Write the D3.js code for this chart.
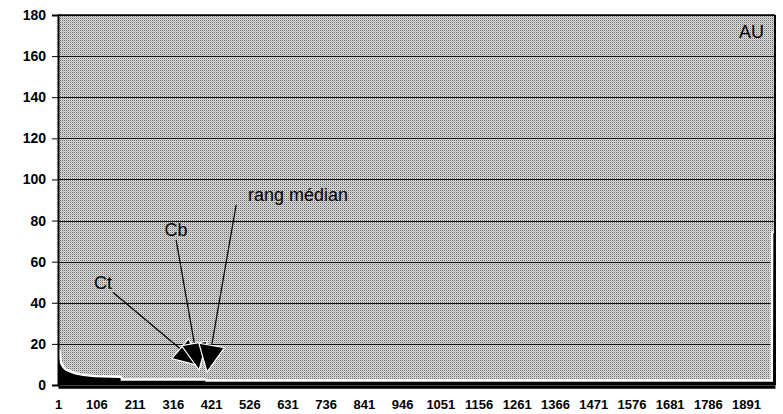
<!DOCTYPE html>
<html>
<head>
<meta charset="utf-8">
<script src="https://cdn.jsdelivr.net/npm/d3@7"></script>
<style>
  body { margin: 0; background: #fff; }
  text { font-family: "Liberation Sans", Arial, sans-serif; fill: #000; }
</style>
</head>
<body>
<svg id="chart" width="783" height="414"></svg>
<script>
// Number of ranked units on the horizontal axis
const rankCount = 1970;

// Rank-size curve: vertices of the filled profile (rank -> value)
const curveRanks  = [1, 3, 6, 12, 20, 34, 50, 70, 100, 172, 173, 405, 406, 1965, 1966, 1970];
const curveValues = [17, 13, 10.5, 8.5, 7, 6, 5, 4.4, 3.8, 3.4, 2.1, 2.1, 1.6, 1.6, 74, 74];

// Axis ticks
const yTicks = [0, 20, 40, 60, 80, 100, 120, 140, 160, 180];
const xTickRanks = [1, 106, 211, 316, 421, 526, 631, 736, 841, 946, 1051, 1156, 1261, 1366, 1471, 1576, 1681, 1786, 1891];

// Annotation labels (text anchor, line start, arrow tip) in rank/value units
const noteLabels  = ["Ct", "Cb", "rang médian"];
const noteTextPos = [[124, 49.6], [325, 75.4], [660, 92.5]];
const noteFrom    = [[152, 45], [325, 70.6], [490, 87.6]];
const noteTo      = [[393, 9.2], [388, 7.3], [410, 6.3]];

const svg = d3.select("#chart");
const margin = { left: 58, right: 8, top: 15, bottom: 29 };
const W = 783, H = 414;

const x = d3.scaleLinear().domain([0.5, rankCount + 0.5]).range([margin.left, W - margin.right]);
const y = d3.scaleLinear().domain([0, 180]).range([H - margin.bottom, margin.top]);

// Dithered grey fill of the plot area
const defs = svg.append("defs");
const pat = defs.append("pattern").attr("id", "dither")
  .attr("patternUnits", "userSpaceOnUse").attr("width", 2).attr("height", 2);
pat.append("rect").attr("width", 2).attr("height", 2).attr("fill", "#dcdcdc");
pat.append("rect").attr("x", 0).attr("y", 0).attr("width", 1).attr("height", 1).attr("fill", "#6c6c6c");
pat.append("rect").attr("x", 1).attr("y", 1).attr("width", 1).attr("height", 1).attr("fill", "#b6b6b6");

svg.append("rect")
  .attr("x", x.range()[0]).attr("y", y(180))
  .attr("width", x.range()[1] - x.range()[0]).attr("height", y(0) - y(180))
  .attr("fill", "url(#dither)");

// Horizontal gridlines
svg.append("g").selectAll("line").data(yTicks.filter(d => d > 0)).join("line")
  .attr("x1", x.range()[0]).attr("x2", x.range()[1])
  .attr("y1", d => Math.round(y(d)) + 0.5).attr("y2", d => Math.round(y(d)) + 0.5)
  .attr("stroke", "#111").attr("stroke-width", 1);

// Profile
const pts = curveRanks.map((r, i) => [r, curveValues[i]]);
const profileLine = d3.line().x(d => x(d[0])).y(d => y(d[1]));
const profileArea = d3.area().x(d => x(d[0])).y0(y(0)).y1(d => y(d[1]));

svg.append("path").datum(pts).attr("d", profileLine)
  .attr("fill", "none").attr("stroke", "#fff").attr("stroke-width", 5).attr("stroke-linejoin", "round");
svg.append("path").datum([[0.5, curveValues[0]], ...pts, [rankCount + 0.5, curveValues[curveValues.length - 1]]])
  .attr("d", profileArea).attr("fill", "#000");

// Frame: top and right borders
svg.append("line").attr("x1", x.range()[0]).attr("x2", x.range()[1])
  .attr("y1", y(180)).attr("y2", y(180)).attr("stroke", "#000").attr("stroke-width", 1.5);
svg.append("line").attr("x1", x.range()[1]).attr("x2", x.range()[1])
  .attr("y1", y(180)).attr("y2", y(0)).attr("stroke", "#000").attr("stroke-width", 2);

// Y axis
const yAxis = svg.append("g").attr("transform", `translate(${x.range()[0]},0)`)
  .call(d3.axisLeft(y).tickValues(yTicks).tickSize(6).tickPadding(6));
yAxis.select(".domain").attr("stroke-width", 2);
yAxis.selectAll("text").style("font-size", "14px").style("font-weight", "bold")
  .style("font-family", "'Liberation Sans', Arial, sans-serif");

// X axis (category ranks)
const xAxis = svg.append("g").attr("transform", `translate(0,${y(0) + 1.5})`)
  .call(d3.axisBottom(x).tickValues(xTickRanks).tickFormat(d3.format("d")).tickSize(0).tickPadding(13));
xAxis.select(".domain").attr("stroke-width", 3.5);
xAxis.selectAll("text").style("font-size", "13px").style("font-weight", "bold")
  .style("font-family", "'Liberation Sans', Arial, sans-serif");

// Corner label
svg.append("text").attr("x", x.range()[1] - 36).attr("y", y(180) + 17)
  .attr("dominant-baseline", "central").style("font-size", "18px").text("AU");

// Annotations with arrows
const headLen = 27, headHalf = 13;
noteLabels.forEach((lbl, i) => {
  const [fx, fy] = [x(noteFrom[i][0]), y(noteFrom[i][1])];
  const [tx, ty] = [x(noteTo[i][0]), y(noteTo[i][1])];
  const dx = tx - fx, dy = ty - fy, len = Math.hypot(dx, dy);
  const ux = dx / len, uy = dy / len;
  const bx = tx - ux * headLen, by = ty - uy * headLen;
  svg.append("line").attr("x1", fx).attr("y1", fy).attr("x2", bx).attr("y2", by)
    .attr("stroke", "#000").attr("stroke-width", 1.2);
  svg.append("path")
    .attr("d", `M${tx},${ty}L${bx - uy * headHalf},${by + ux * headHalf}L${bx + uy * headHalf},${by - ux * headHalf}Z`)
    .attr("fill", "#000").attr("stroke", "#fff").attr("stroke-width", 1.2);
  svg.append("text").attr("x", x(noteTextPos[i][0])).attr("y", y(noteTextPos[i][1]))
    .attr("text-anchor", "middle").attr("dominant-baseline", "central")
    .style("font-size", "18px").text(lbl);
});
</script>
</body>
</html>
